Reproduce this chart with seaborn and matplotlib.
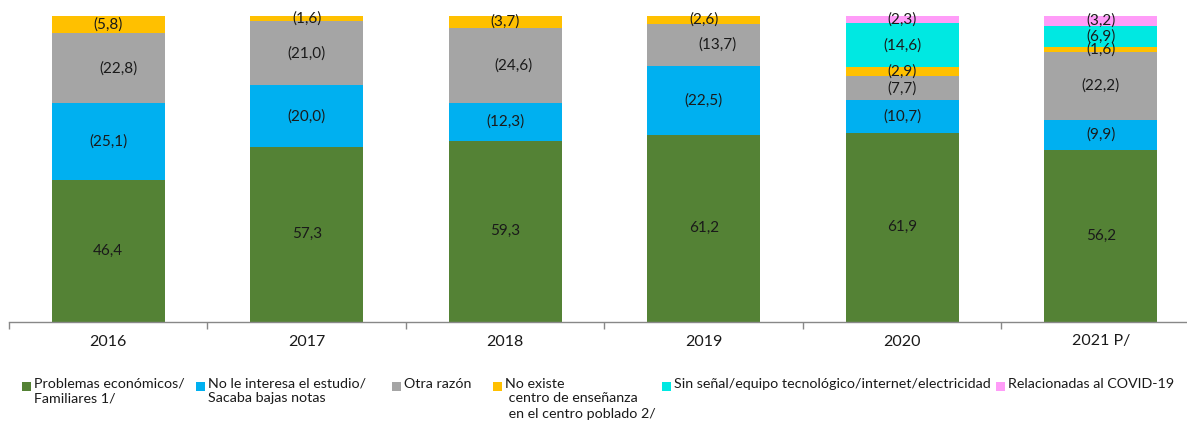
import matplotlib
matplotlib.use("Agg")
import matplotlib.pyplot as plt
import seaborn as sns
import numpy as np
import pandas as pd
from matplotlib.patches import Rectangle

years = ["2016", "2017", "2018", "2019", "2020", "2021 P/"]
economicos = [46.4, 57.3, 59.3, 61.2, 61.9, 56.2]
no_interesa = [25.1, 20.0, 12.3, 22.5, 10.7, 9.9]
otra_razon = [22.8, 21.0, 24.6, 13.7, 7.7, 22.2]
no_existe = [5.8, 1.6, 3.7, 2.6, 2.9, 1.6]
sin_senal = [0.0, 0.0, 0.0, 0.0, 14.6, 6.9]
covid = [0.0, 0.0, 0.0, 0.0, 2.3, 3.2]

series_names = [
    "Problemas económicos/\nFamiliares 1/",
    "No le interesa el estudio/\nSacaba bajas notas",
    "Otra razón",
    "No existe\n centro de enseñanza\n en el centro poblado 2/",
    "Sin señal/equipo tecnológico/internet/electricidad",
    "Relacionadas al COVID-19",
]
series_values = [economicos, no_interesa, otra_razon, no_existe, sin_senal, covid]
colors = ["#548235", "#00B0F0", "#A5A5A5", "#FFC000", "#00E8E2", "#FF9CF8"]

sns.set_theme(style="white")
plt.rcParams["font.family"] = ["Lato", "DejaVu Sans"]

fig = plt.figure(figsize=(11.87, 4.26), dpi=100)
ax = fig.add_axes([9 / 1187, 104 / 426, 1191 / 1187, 306 / 426])

vals = np.array(series_values)
cum = np.cumsum(vals, axis=0)

# draw cumulative bars from the top series down so lower ones overlay
for i in range(len(series_values) - 1, -1, -1):
    df = pd.DataFrame({"year": years, "total": cum[i]})
    sns.barplot(data=df, x="year", y="total", color=colors[i], width=0.57,
                saturation=1, ax=ax, linewidth=0, order=years)

# labels
label_dx = {2: [0.05, 0.0, 0.04, 0.07, 0.0, 0.0]}
for i, v in enumerate(series_values):
    for j, val in enumerate(v):
        if val <= 0:
            continue
        yc = cum[i][j] - val / 2
        txt = f"{val:.1f}".replace(".", ",")
        if i > 0:
            txt = f"({txt})"
        dx = label_dx.get(i, [0] * 6)[j]
        ax.text(j + dx, yc, txt, ha="center", va="center", fontsize=11,
                color="#1a1a1a")

ax.set_ylim(0, 100)
ax.set_xlim(-0.5, 5.5)
ax.set_ylabel("")
ax.set_xlabel("")
ax.set_yticks([])
for s in ["left", "right", "top"]:
    ax.spines[s].set_visible(False)
ax.spines["bottom"].set_color("#888888")
ax.spines["bottom"].set_linewidth(1)
ax.set_xticks(range(len(years)))
ax.set_xticklabels(years, fontsize=11.5, color="#1a1a1a")
ax.tick_params(axis="x", which="major", length=0, pad=9)
ax.set_xticks(np.arange(-0.5, 6.0, 1.0), minor=True)
ax.tick_params(axis="x", which="minor", length=5, color="#888888", width=1,
               bottom=True)

# legend drawn manually to mimic layout
leg_x = [22, 196, 392, 493, 662, 996]
leg_y = 386
for name, col, lx in zip(series_names, colors, leg_x):
    fig.patches.append(Rectangle((lx / 1187, (426 - leg_y - 4.5) / 426),
                                 9 / 1187, 9 / 426, transform=fig.transFigure,
                                 facecolor=col, edgecolor="none"))
    fig.text((lx + 12) / 1187, (426 - leg_y + 8.5) / 426, name, ha="left",
             va="top", fontsize=10.3, color="#1a1a1a", linespacing=1.3)

fig.savefig("out.png", dpi=100)
